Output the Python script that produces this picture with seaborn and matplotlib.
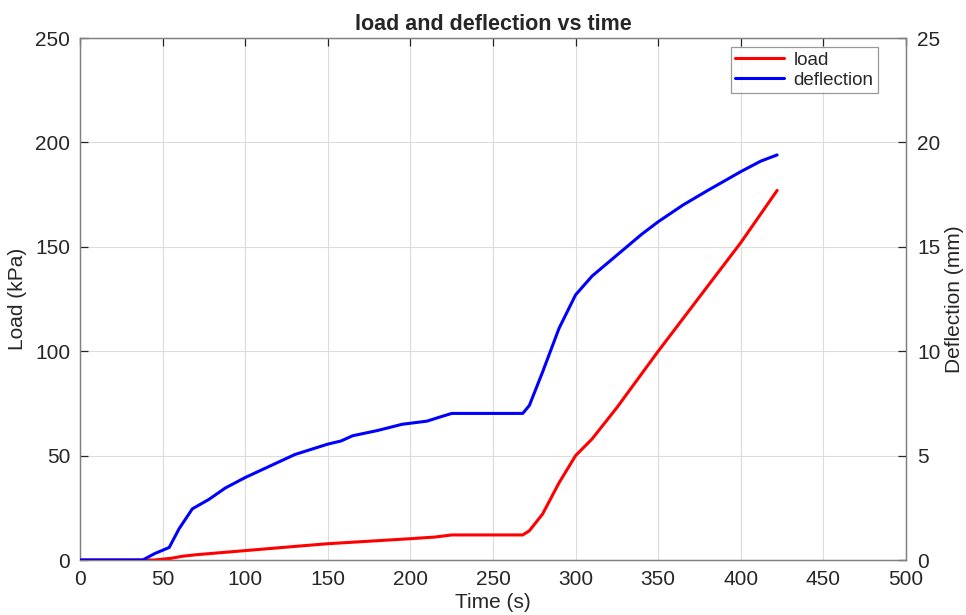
import matplotlib
matplotlib.use("Agg")
import matplotlib.pyplot as plt
import seaborn as sns
import pandas as pd
from matplotlib.lines import Line2D

sns.set_style("white")
plt.rcParams['font.family'] = ['Liberation Sans', 'DejaVu Sans']

# Data
defl_time = [0, 20, 38, 45, 54, 60, 68, 78, 88, 100, 115, 130, 150, 158, 165, 180, 195, 210, 218, 225, 245, 268, 272, 280, 290, 300, 310, 325, 340, 350, 365, 380, 400, 412, 422]
defl_mm = [0, 0, 0, 0.3, 0.6, 1.5, 2.45, 2.9, 3.45, 3.95, 4.5, 5.05, 5.55, 5.7, 5.95, 6.2, 6.5, 6.65, 6.85, 7.02, 7.02, 7.02, 7.4, 9.0, 11.1, 12.7, 13.6, 14.6, 15.6, 16.2, 17.0, 17.7, 18.6, 19.1, 19.4]

load_time = [0, 30, 45, 55, 62, 70, 100, 130, 150, 175, 200, 215, 225, 250, 268, 272, 280, 290, 300, 310, 325, 350, 375, 400, 422]
load_kpa = [0, 0, 0, 0.8, 1.8, 2.5, 4.5, 6.5, 7.8, 9.0, 10.2, 11.0, 12.0, 12.0, 12.0, 14.0, 22.0, 37.0, 50.0, 58.0, 73.0, 100.0, 126.0, 152.0, 177.0]

df_load = pd.DataFrame({"t": load_time, "v": load_kpa})
df_defl = pd.DataFrame({"t": defl_time, "v": defl_mm})

fig = plt.figure(figsize=(9.66, 6.15), dpi=100)
ax = fig.add_axes([80/966, 1-560/615, 826/966, 522/615])
ax2 = ax.twinx()

sns.lineplot(data=df_load, x="t", y="v", ax=ax, color="#ff0000", lw=2.2, zorder=3)
sns.lineplot(data=df_defl, x="t", y="v", ax=ax2, color="#0000ff", lw=2.2, zorder=3)

edge = "#262626"
tickc = "#262626"
ax.set_xlim(0, 500)
ax.set_ylim(0, 250)
ax2.set_ylim(0, 25)
ax.set_xticks(range(0, 501, 50))
ax.set_yticks(range(0, 251, 50))
ax2.set_yticks(range(0, 26, 5))
ax.grid(True, color="#dcdcdc", lw=0.8)
ax.set_axisbelow(True)

ax.set_xlabel("Time (s)", fontsize=15, color=edge, labelpad=3)
ax.set_ylabel("Load (kPa)", fontsize=15, color=edge, labelpad=6)
ax2.set_ylabel("Deflection (mm)", fontsize=15, color=edge, labelpad=3)
ax.set_title("load and deflection vs time", fontsize=15.5, fontweight="bold", color=edge, pad=6)

for a in (ax, ax2):
    for s in a.spines.values():
        s.set_color("#808080")
        s.set_linewidth(0.9)
ax.tick_params(axis="both", direction="in", length=6, labelsize=15, colors=tickc,
               top=True, right=False, width=0.9)
ax.tick_params(axis="x", pad=7)
ax.tick_params(axis="y", pad=7)
ax2.tick_params(axis="y", direction="in", length=6, labelsize=15, colors=tickc, width=0.9, pad=8)
for lbl in ax.get_xticklabels() + ax.get_yticklabels() + ax2.get_yticklabels():
    lbl.set_color(edge)

handles = [Line2D([0], [0], color="#ff0000", lw=2.2), Line2D([0], [0], color="#0000ff", lw=2.2)]
leg = ax2.legend(handles, ["load", "deflection"], loc="upper right", bbox_to_anchor=(0.971, 0.99),
                 fontsize=13.5, frameon=True, fancybox=False, handlelength=2.6,
                 borderpad=0.25, labelspacing=0.15, handletextpad=0.5, borderaxespad=0.2)
leg.get_frame().set_edgecolor("#808080")
leg.get_frame().set_linewidth(0.9)
for t in leg.get_texts():
    t.set_color(edge)

fig.savefig("out.png", dpi=100)
